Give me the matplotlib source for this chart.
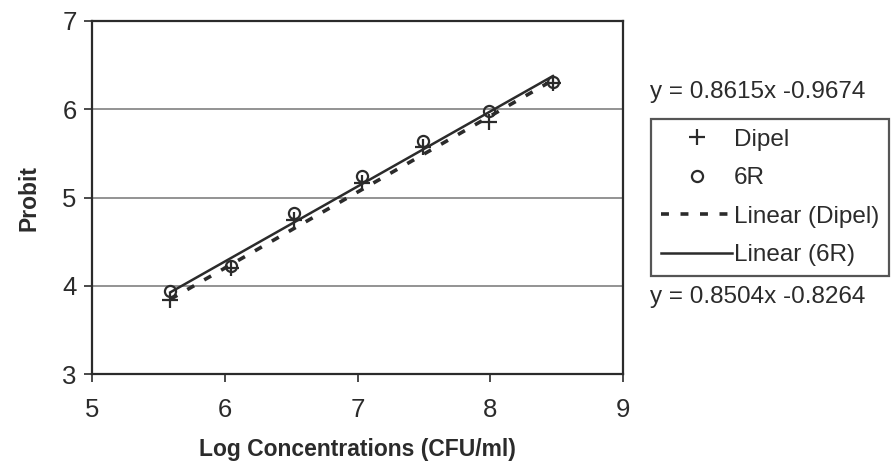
import numpy as np
import matplotlib.pyplot as plt

plt.rcParams['font.family'] = ['Liberation Sans', 'DejaVu Sans']

# data
log_conc = [5.59, 6.05, 6.52, 7.03, 7.49, 7.99, 8.47]
probit_dipel = [3.84, 4.20, 4.75, 5.16, 5.57, 5.86, 6.30]
probit_6r = [3.94, 4.22, 4.83, 5.24, 5.64, 5.98, 6.31]

# trendline coefficients as printed on the chart
fit_dipel = (0.8615, -0.9674)
fit_6r = (0.8504, -0.8264)

x_ticks = [5, 6, 7, 8, 9]
y_ticks = [3, 4, 5, 6, 7]

ink = '#2b2b2b'

fig = plt.figure(figsize=(8.93, 4.66), dpi=100)
ax = fig.add_axes([0.103, 0.197, 0.595, 0.758])

for yv in y_ticks[1:-1]:
    ax.axhline(yv, color='#8a8a8a', lw=1.3, zorder=0)

ax.plot(log_conc, probit_dipel, ls='none', marker='+', ms=11, mew=1.6,
        color=ink, label='Dipel', zorder=3)
ax.plot(log_conc, probit_6r, ls='none', marker='o', ms=8, mew=1.6,
        mfc='none', mec=ink, label='6R', zorder=3)

xs = np.array([min(log_conc), max(log_conc)])
ax.plot(xs, fit_dipel[0] * xs + fit_dipel[1], color=ink, lw=2.6,
        dashes=(2.2, 3.2), label='Linear (Dipel)', zorder=2)
ax.plot(xs, fit_6r[0] * xs + fit_6r[1], color=ink, lw=1.8,
        label='Linear (6R)', zorder=2)

ax.set_xlim(5, 9)
ax.set_ylim(3, 7)
ax.set_xticks(x_ticks)
ax.set_yticks(y_ticks)
ax.tick_params(labelsize=18.5, colors=ink, length=6, width=1.2)
ax.tick_params(axis='x', pad=11)
ax.tick_params(axis='y', pad=5)
for sp in ax.spines.values():
    sp.set_color(ink)
    sp.set_linewidth(1.6)

ax.set_xlabel('Log Concentrations (CFU/ml)', fontsize=16.5, fontweight='bold',
              color=ink, labelpad=12)
ax.set_ylabel('Probit', fontsize=16.5, fontweight='bold', color=ink, labelpad=16)

fig.text(0.728, 0.803, 'y = %.4fx %.4f' % fit_dipel, fontsize=17.5,
         color=ink, va='center', ha='left')
fig.text(0.728, 0.362, 'y = %.4fx %.4f' % fit_6r, fontsize=17.5,
         color=ink, va='center', ha='left')

h, l = ax.get_legend_handles_labels()
leg = fig.legend(h, l, loc='upper left', bbox_to_anchor=(0.729, 0.745),
                 fontsize=17.5, frameon=True, fancybox=False, handlelength=2.95,
                 handletextpad=0.05, labelspacing=0.68, borderpad=0.4,
                 borderaxespad=0)
leg.get_frame().set_edgecolor(ink)
leg.get_frame().set_linewidth(1.6)
for t in leg.get_texts():
    t.set_color(ink)

fig.savefig('out.png', dpi=100)
